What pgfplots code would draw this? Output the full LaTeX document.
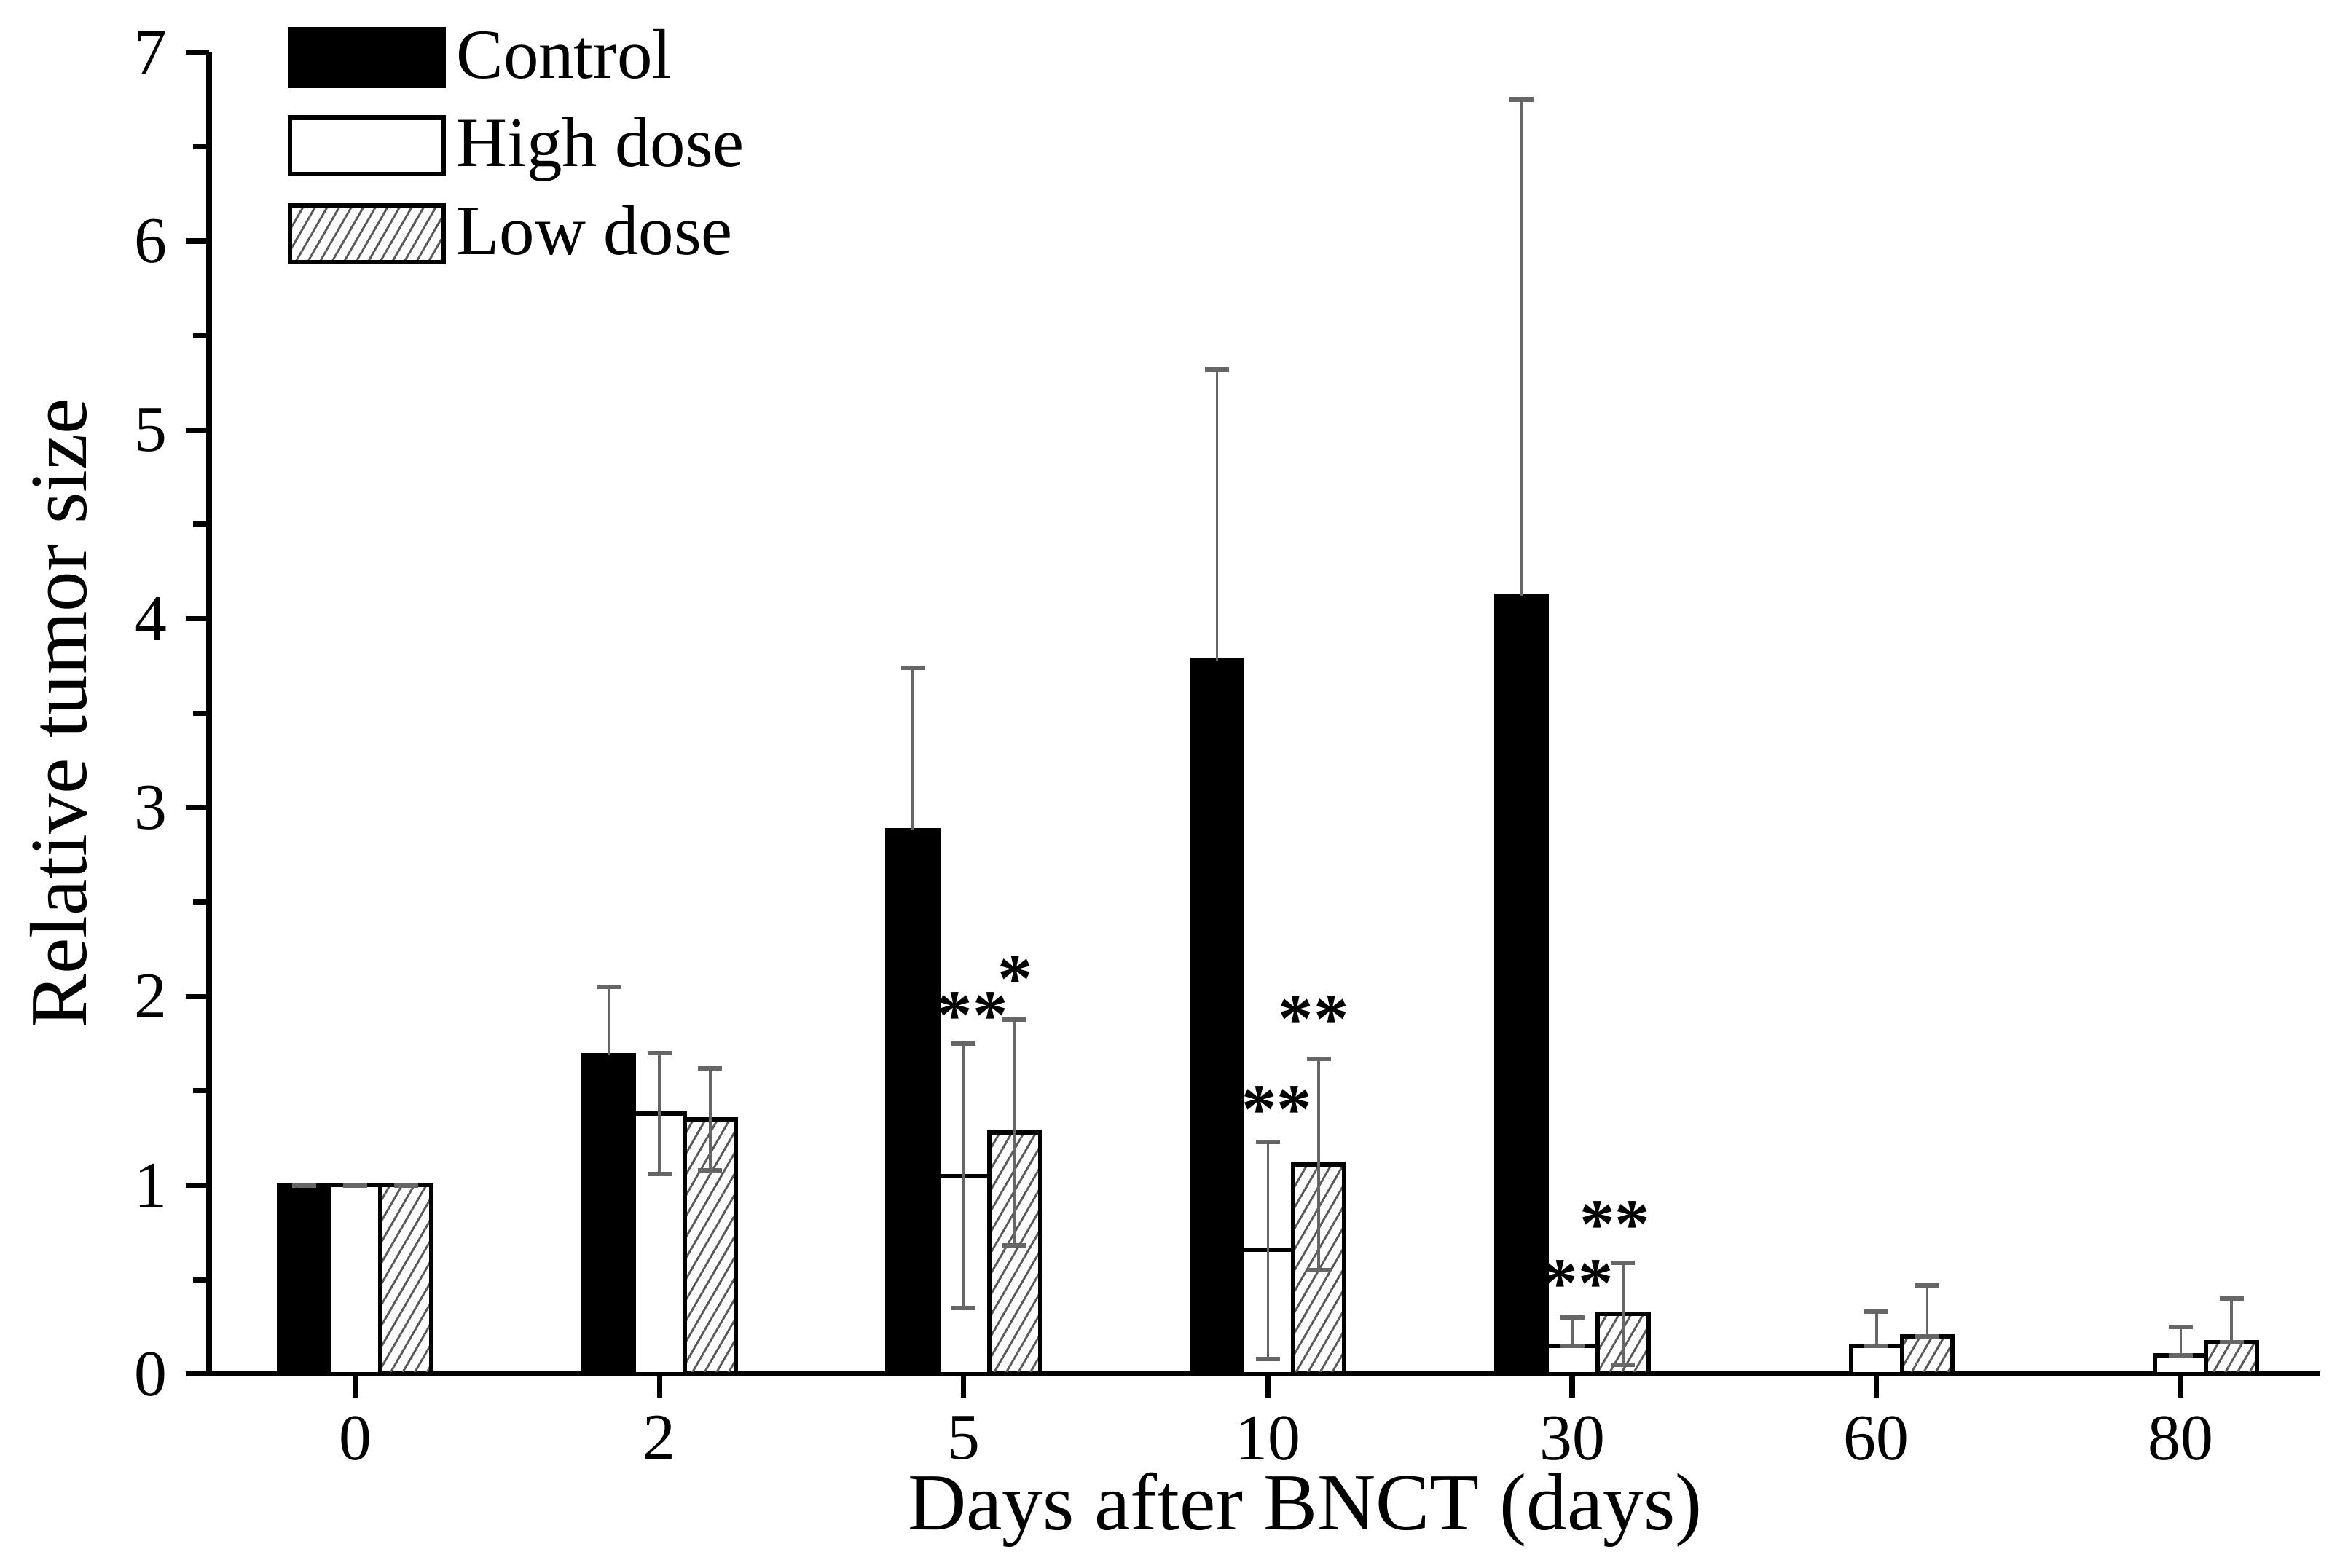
\documentclass[border=0pt]{standalone}
\usepackage{pgfplots}
\pgfplotsset{compat=1.18}
\usepackage{pgfplotstable}
\usepackage{fontspec}
\setmainfont{Liberation Serif}
\usetikzlibrary{patterns.meta}

% relative tumor size, mean with + / - error
\pgfplotstableread{
x y ep em
0 1.00 0.00 0
1 1.69 0.36 0
2 2.88 0.86 0
3 3.78 1.54 0
4 4.12 2.63 0
}\control
\pgfplotstableread{
x y ep em
0 1.00 0.00 0.00
1 1.38 0.32 0.32
2 1.05 0.70 0.70
3 0.66 0.57 0.58
4 0.15 0.15 0.00
5 0.15 0.18 0.00
6 0.10 0.15 0.00
}\high
\pgfplotstableread{
x y ep em
0 1.00 0.00 0.00
1 1.35 0.27 0.27
2 1.28 0.60 0.60
3 1.11 0.56 0.56
4 0.32 0.27 0.27
5 0.20 0.27 0.00
6 0.17 0.23 0.00
}\low

\definecolor{errgray}{gray}{0.4}
\definecolor{hatchgray}{gray}{0.35}

\pgfplotsset{
  boxlegend/.style={legend image code/.code={
    \draw[##1,line width=0.9pt] (0pt,-5.4pt) rectangle (29.4pt,5.4pt);}},
}

\begin{document}
\begin{tikzpicture}
\begin{axis}[
  name=ax,
  scale only axis,
  width=404pt, height=253pt,
  xmin=-0.48, xmax=6.46,
  ymin=0, ymax=7,
  axis lines=left,
  axis line style={line width=1pt,-},
  ybar=0pt, bar width=0.167,
  xtick={0,...,6},
  xticklabels={0,2,5,10,30,60,80},
  ytick={0,...,7},
  minor y tick num=1,
  tick align=outside,
  tick style={line width=1pt,black},
  major tick length=4.5pt, minor tick length=3pt,
  /pgf/number format/assume math mode=true,
  ticklabel style={font=\fontsize{12.5}{15}\selectfont},
  xlabel={Days after BNCT (days)},
  ylabel={Relative tumor size},
  label style={font=\fontsize{15.5}{18}\selectfont},
  xlabel style={at={(axis description cs:0.519,-0.1028)}, anchor=center},
  ylabel style={at={(axis description cs:-0.0713,0.5)}, anchor=center},
  legend style={at={(0.0367,1.026)}, anchor=north west, draw=none, fill=none,
    inner sep=0pt, row sep=2pt, font=\fontsize{13.5}{16}\selectfont,
    /tikz/every even column/.append style={column sep=5pt}},
  legend cell align=left,
  error bars/y dir=both,
  error bars/y explicit,
  error bars/error bar style={errgray,line width=0.5pt},
  error bars/error mark options={rotate=90,mark size=2.3pt,errgray,line width=0.9pt},
]
\addplot[boxlegend, draw=black, fill=black, line width=0.8pt,
  error bars/y dir=plus]
  table[x=x,y=y,y error plus=ep,y error minus=em] {\control};
\addlegendentry{Control}
\addplot[boxlegend, draw=black, fill=white, line width=0.8pt]
  table[x=x,y=y,y error plus=ep,y error minus=em] {\high};
\addlegendentry{High dose}
\addplot[boxlegend, draw=black, line width=0.8pt,
  pattern={Lines[angle=60,distance=2pt,line width=0.4pt]}, pattern color=hatchgray]
  table[x=x,y=y,y error plus=ep,y error minus=em] {\low};
\addlegendentry{Low dose}

\begin{scope}[every node/.style={font=\bfseries\fontsize{13.5}{15}\selectfont, inner sep=0pt}]
\node at (axis cs:2.03,1.90) {**};
\node at (axis cs:2.17,2.09) {*};
\node at (axis cs:3.03,1.40) {**};
\node at (axis cs:3.15,1.88) {**};
\node at (axis cs:4.02,0.48) {**};
\node at (axis cs:4.14,0.79) {**};
\end{scope}
\end{axis}
% page margins as in the reference
\path ([shift={(-40pt,-37.1pt)}]ax.south west) rectangle ([shift={(3.7pt,10pt)}]ax.north east);
\end{tikzpicture}
\end{document}
